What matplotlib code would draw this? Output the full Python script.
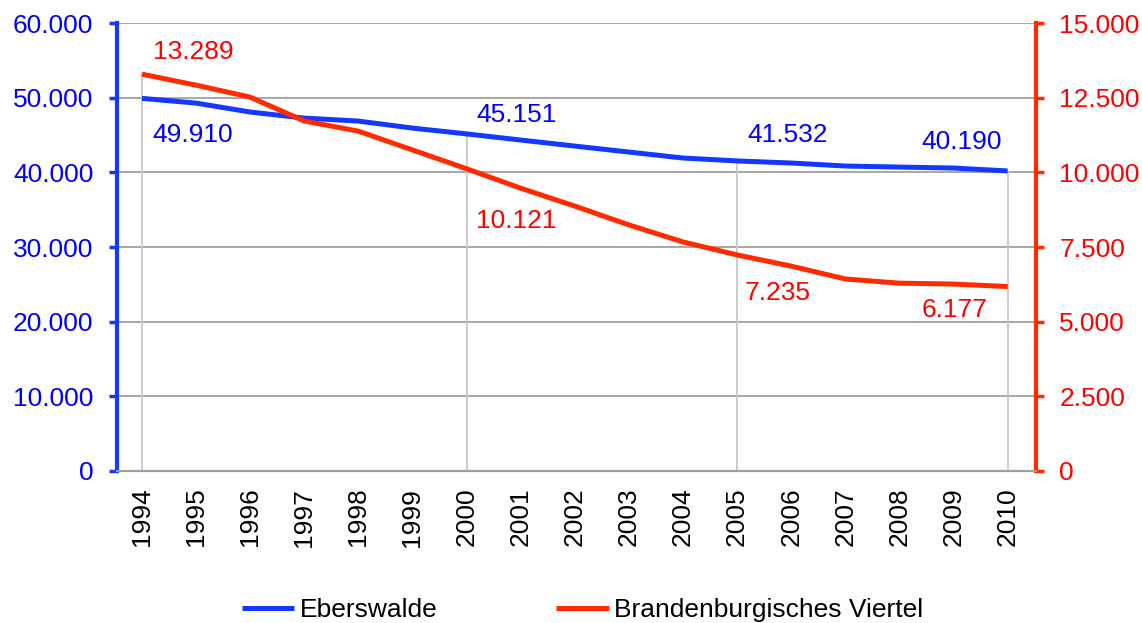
import matplotlib
matplotlib.use("Agg")
import matplotlib.pyplot as plt
from matplotlib.ticker import FuncFormatter, FixedLocator

plt.rcParams['font.family'] = ['Liberation Sans', 'DejaVu Sans']

# Daten
years = list(range(1994, 2011))
eberswalde = [49910, 49280, 48080, 47270, 46870, 45930, 45151, 44330, 43520,
              42720, 41920, 41532, 41250, 40850, 40710, 40580, 40190]
brandenburg = [13289, 12920, 12520, 11720, 11380, 10750, 10121, 9470, 8870,
               8240, 7670, 7235, 6860, 6430, 6290, 6260, 6177]
label_years = [1994, 2000, 2005, 2010]

blue_line = '#1438ff'
blue_txt = '#0000ff'
red_line = '#ff2a00'
red_txt = '#ff0000'
fs = 19


def de_fmt(v, pos=None):
    return '{:,.0f}'.format(v).replace(',', '.')


fig = plt.figure(figsize=(11.42, 6.23), dpi=100)
ax = fig.add_axes([0.1025, 0.244, 0.8045, 0.719])
ax2 = ax.twinx()

ax.set_xlim(1993.54, 2010.52)
ax.set_ylim(0, 60000)
ax2.set_ylim(0, 15000)

# Gitter
for v in range(10000, 60001, 10000):
    ax.axhline(v, color='#a0a0a0', lw=1.3, zorder=0)
for yr in label_years:
    i = years.index(yr)
    top = max(eberswalde[i], brandenburg[i] * 4)
    ax.vlines(yr, 0, top, color='#c8c8c8', lw=1.3, zorder=0)

l1, = ax.plot(years, eberswalde, color=blue_line, lw=3.6, zorder=3,
              solid_capstyle='butt', label='Eberswalde')
l2, = ax2.plot(years, brandenburg, color=red_line, lw=3.6, zorder=3,
               solid_capstyle='butt', label='Brandenburgisches Viertel')

# Beschriftungen
blue_off = {1994: (51, -37), 2000: (50, 19), 2005: (51, 26), 2010: (-46, 29)}
red_off = {1994: (51, 22), 2000: (50, -52), 2005: (41, -38), 2010: (-53, -23)}
for yr in label_years:
    i = years.index(yr)
    ax.annotate(de_fmt(eberswalde[i]), (yr, eberswalde[i]),
                xytext=blue_off[yr], textcoords='offset pixels',
                ha='center', va='center', fontsize=fs, color=blue_txt)
    ax2.annotate(de_fmt(brandenburg[i]), (yr, brandenburg[i]),
                 xytext=red_off[yr], textcoords='offset pixels',
                 ha='center', va='center', fontsize=fs, color=red_txt)

# Achsen
ax.xaxis.set_major_locator(FixedLocator(years))
ax.set_xticklabels([str(y) for y in years], rotation=90, fontsize=fs)
ax.tick_params(axis='x', length=0, pad=12)

ax.set_yticks(range(0, 60001, 10000))
ax.yaxis.set_major_formatter(FuncFormatter(de_fmt))
ax.tick_params(axis='y', colors=blue_line, labelcolor=blue_txt, labelsize=fs,
               length=6, width=2.5, direction='out', pad=11)
ax2.set_yticks(range(0, 15001, 2500))
ax2.yaxis.set_major_formatter(FuncFormatter(de_fmt))
ax2.tick_params(axis='y', colors=red_line, labelcolor=red_txt, labelsize=fs,
                length=6, width=2.5, direction='out', pad=11)

for a in (ax, ax2):
    a.spines['top'].set_visible(False)
    a.spines['bottom'].set_color('#a0a0a0')
    a.spines['bottom'].set_linewidth(1.5)
ax.spines['left'].set_color(blue_line)
ax.spines['left'].set_linewidth(3)
ax.spines['right'].set_visible(False)
ax2.spines['left'].set_visible(False)
ax2.spines['right'].set_color(red_line)
ax2.spines['right'].set_linewidth(3)

fig.legend(handles=[l1, l2], loc='center', bbox_to_anchor=(0.51, 0.021),
           ncol=2, frameon=False, fontsize=fs, handlelength=2.0,
           handletextpad=0.2, columnspacing=4.5)

fig.savefig('out.png', dpi=100)
